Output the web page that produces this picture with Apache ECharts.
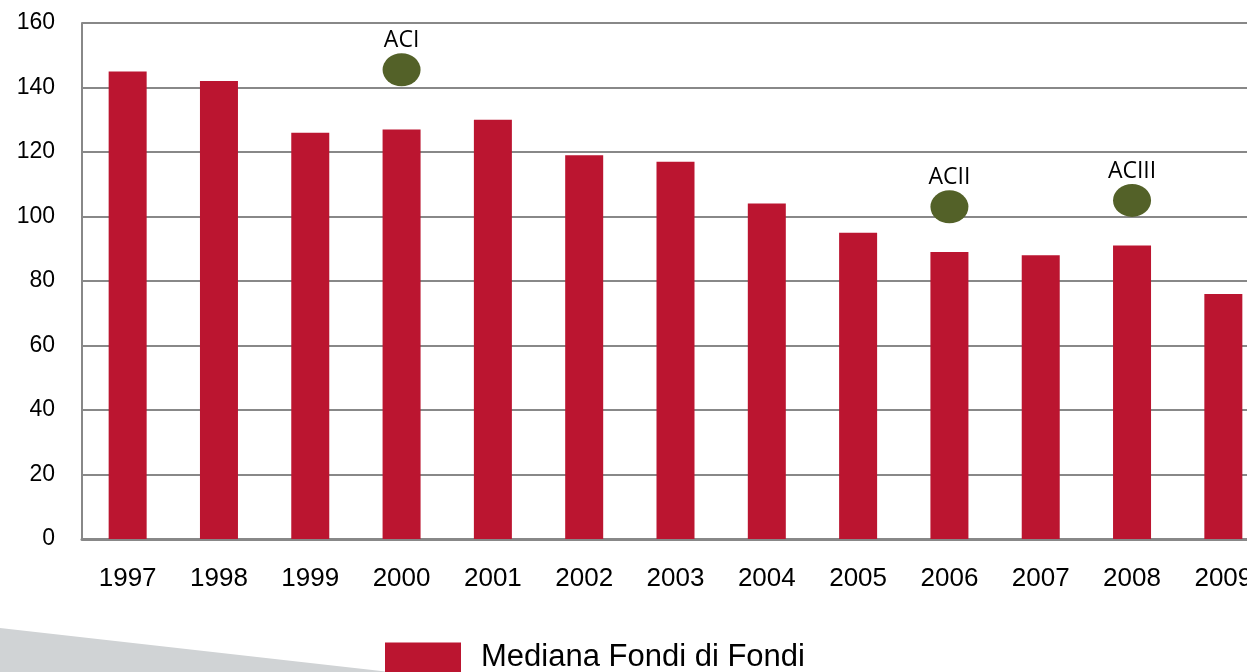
<!DOCTYPE html>
<html>
<head>
<meta charset="utf-8">
<script src="https://cdn.jsdelivr.net/npm/echarts@6/dist/echarts.min.js"></script>
<style>
  html, body { margin: 0; padding: 0; background: #fff; overflow: hidden; }
  #chart { width: 1290px; height: 672px; }
</style>
</head>
<body>
<div id="chart"></div>
<script>
  var years = ["1997", "1998", "1999", "2000", "2001", "2002", "2003", "2004", "2005", "2006", "2007", "2008", "2009"];
  var mediana = [145, 142, 126, 127, 130, 119, 117, 104, 95, 89, 88, 91, 76];
  var markerYears = ["2000", "2006", "2008"];
  var markerValues = [145.5, 103, 105];
  var markerLabels = ["ACI", "ACII", "ACIII"];
  var yTicks = [0, 20, 40, 60, 80, 100, 120, 140, 160];

  var markerData = markerYears.map(function (y, i) {
    return { value: [y, markerValues[i]], label: { formatter: markerLabels[i] } };
  });

  // il div è più largo della finestra: il grafico originale è tagliato a destra
  var chart = echarts.init(document.getElementById("chart"));
  chart.setOption({
    animation: false,
    textStyle: { fontFamily: "Liberation Sans, Arial, sans-serif" },
    grid: { left: 82, top: 23, right: 21, bottom: 133 },
    graphic: [
      {
        type: "polygon",
        z: -1,
        shape: { points: [[0, 628], [390, 672], [0, 672]] },
        style: { fill: "#d0d3d5" }
      }
    ],
    legend: {
      left: 385,
      top: 642,
      padding: 0,
      itemWidth: 76,
      itemHeight: 30,
      icon: "rect",
      data: ["Mediana Fondi di Fondi"],
      textStyle: { fontSize: 31, color: "#000", padding: [0, 0, 0, 15] }
    },
    xAxis: {
      type: "category",
      data: years,
      axisLine: { lineStyle: { color: "#888", width: 3 } },
      axisTick: { show: false },
      axisLabel: { color: "#000", fontSize: 26, margin: 27 }
    },
    yAxis: {
      type: "value",
      min: yTicks[0],
      max: yTicks[yTicks.length - 1],
      interval: 20,
      axisLine: { show: true, lineStyle: { color: "#888", width: 2 } },
      axisTick: { show: false },
      axisLabel: { color: "#000", fontSize: 23, margin: 27 },
      splitLine: { lineStyle: { color: "#888", width: 2 } }
    },
    series: [
      {
        name: "Mediana Fondi di Fondi",
        type: "bar",
        data: mediana,
        barWidth: 38,
        itemStyle: { color: "#bb1530" }
      },
      {
        name: "AC",
        type: "scatter",
        data: markerData,
        symbol: "circle",
        symbolSize: [38, 33],
        itemStyle: { color: "#536128", opacity: 1 },
        label: {
          show: true,
          position: "top",
          distance: 1,
          color: "#000",
          fontSize: 23,
          fontFamily: "Open Sans, sans-serif"
        },
        z: 5
      }
    ]
  });
</script>
</body>
</html>
